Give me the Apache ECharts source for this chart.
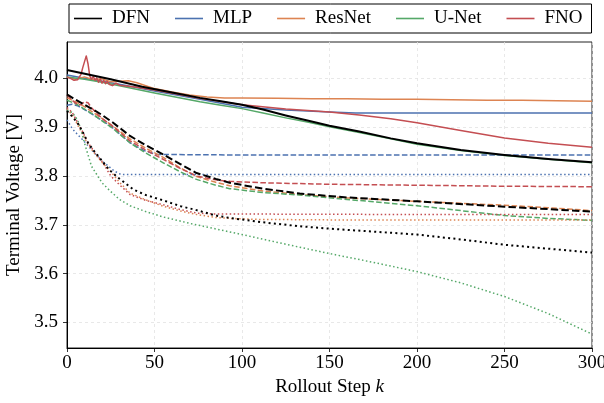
<!DOCTYPE html>
<html><head><meta charset="utf-8">
<script src="https://cdn.jsdelivr.net/npm/echarts@6/dist/echarts.min.js"></script>
<style>html,body{margin:0;padding:0;background:#fff}#c{width:604px;height:403px}</style>
</head><body><div id="c"></div>
<script>
// ---- tick labels ----
const xTicks = [0, 50, 100, 150, 200, 250, 300];
const yTicks = [3.5, 3.6, 3.7, 3.8, 3.9, 4.0];
const legendNames = ['DFN', 'MLP', 'ResNet', 'U-Net', 'FNO'];

// ---- solid (first rollout) ----
const dfnSolid = [[0,4.017],[25,3.998],[43,3.983],[60,3.971],[76,3.960],[88,3.953],[100,3.946],[112,3.936],[125,3.924],[138,3.913],[150,3.903],[167,3.891],[185,3.877],[200,3.867],[225,3.853],[250,3.843],[275,3.835],[300,3.828]];
const mlpSolid = [[0,4.007],[10,4.0],[20,3.994],[30,3.988],[50,3.974],[76,3.957],[100,3.941],[125,3.935],[150,3.931],[165,3.929],[200,3.929],[300,3.929]];
const resnetSolid = [[0,4.002],[5,3.998],[10,4.003],[15,3.997],[20,3.999],[25,3.993],[30,3.994],[35,3.995],[40,3.991],[45,3.985],[50,3.979],[60,3.972],[70,3.966],[80,3.962],[90,3.960],[100,3.960],[120,3.959],[140,3.958],[160,3.958],[180,3.957],[200,3.957],[220,3.956],[240,3.955],[260,3.955],[280,3.954],[300,3.953]];
const unetSolid = [[0,4.003],[10,3.998],[20,3.992],[30,3.985],[50,3.970],[76,3.952],[88,3.945],[100,3.938],[112,3.929],[125,3.919],[138,3.910],[150,3.901],[167,3.889],[185,3.876],[200,3.865],[225,3.852],[250,3.842],[275,3.834],[300,3.827]];
const fnoSolid = [[0,4.003],[2,4.0],[4,3.996],[6,3.997],[8,4.008],[9,4.022],[11,4.046],[12,4.03],[13,4.005],[14,3.998],[15,4.004],[16,3.996],[17,4.001],[18,3.992],[19,3.999],[20,3.99],[21,3.996],[22,3.989],[23,3.994],[24,3.988],[25,3.992],[26,3.985],[28,3.99],[30,3.986],[40,3.982],[50,3.976],[76,3.959],[100,3.946],[125,3.937],[150,3.931],[167,3.925],[185,3.917],[200,3.909],[225,3.893],[250,3.878],[275,3.867],[300,3.859]];

// ---- dashed (second rollout) ----
const dfnDashed = [[0,3.967],[5,3.956],[10,3.946],[15,3.936],[20,3.925],[26,3.910],[36,3.882],[45,3.863],[55,3.844],[65,3.824],[74,3.806],[85,3.794],[93,3.786],[112,3.774],[133,3.764],[160,3.756],[200,3.748],[250,3.737],[275,3.732],[300,3.727]];
const mlpDashed = [[0,3.945],[3,3.947],[6,3.944],[10,3.936],[15,3.925],[20,3.914],[26,3.899],[36,3.868],[44,3.852],[51,3.844],[100,3.843],[300,3.843]];
const resnetDashed = [[0,3.960],[5,3.952],[10,3.942],[15,3.930],[20,3.918],[26,3.903],[36,3.876],[45,3.857],[55,3.838],[65,3.816],[74,3.799],[85,3.787],[93,3.780],[112,3.769],[133,3.762],[160,3.755],[200,3.748],[250,3.740],[275,3.735],[300,3.729]];
const unetDashed = [[0,3.955],[5,3.948],[10,3.937],[15,3.926],[20,3.913],[26,3.898],[36,3.868],[45,3.847],[55,3.827],[65,3.808],[74,3.793],[85,3.781],[93,3.774],[112,3.766],[133,3.761],[160,3.752],[200,3.739],[225,3.729],[250,3.719],[275,3.713],[300,3.709]];
const fnoDashed = [[0,3.966],[3,3.955],[6,3.946],[8,3.946],[10,3.952],[12,3.950],[14,3.940],[17,3.928],[20,3.918],[26,3.902],[36,3.872],[45,3.853],[55,3.834],[65,3.815],[74,3.800],[85,3.792],[93,3.789],[112,3.786],[150,3.783],[200,3.781],[250,3.779],[300,3.778]];

// ---- dotted (third rollout) ----
const dfnDotted = [[0,3.933],[3,3.922],[6,3.909],[9,3.890],[12,3.868],[15,3.853],[18,3.840],[24,3.813],[29,3.797],[33,3.786],[38,3.772],[45,3.761],[55,3.750],[65,3.738],[74,3.730],[85,3.719],[93,3.714],[112,3.705],[133,3.697],[150,3.692],[175,3.686],[200,3.680],[225,3.670],[250,3.659],[275,3.651],[300,3.643]];
const mlpDotted = [[0,3.915],[3,3.897],[6,3.885],[9,3.874],[12,3.862],[16,3.846],[21,3.828],[26,3.813],[29,3.806],[31,3.803],[100,3.803],[300,3.803]];
const resnetDotted = [[0,3.937],[3,3.925],[6,3.905],[9,3.885],[12,3.865],[16,3.845],[20,3.828],[25,3.809],[30,3.787],[36,3.765],[45,3.751],[55,3.738],[65,3.728],[74,3.721],[85,3.715],[93,3.713],[110,3.711],[150,3.710],[200,3.710],[250,3.710],[300,3.710]];
const unetDotted = [[0,3.935],[3,3.930],[6,3.915],[8,3.895],[10.5,3.861],[14,3.820],[20,3.786],[25,3.768],[30,3.752],[36,3.739],[45,3.727],[55,3.716],[70,3.703],[87,3.690],[100,3.680],[115,3.668],[133,3.654],[150,3.641],[175,3.623],[200,3.604],[225,3.581],[250,3.553],[275,3.518],[300,3.476]];
const fnoDotted = [[0,3.940],[3,3.930],[6,3.910],[9,3.890],[12,3.868],[16,3.848],[20,3.830],[25,3.800],[30,3.782],[36,3.762],[45,3.750],[55,3.741],[65,3.731],[74,3.724],[85,3.722],[100,3.722],[200,3.721],[300,3.721]];

const COL = {DFN:'#000000', MLP:'#4C72B0', ResNet:'#DD8452', 'U-Net':'#55A868', FNO:'#C44E52'};
const FONT = 'Liberation Serif';
const FS = 19;

function mk(name, model, data, style) {
  const w = model === 'DFN' ? 2 : 1.5;
  let type = 'solid';
  if (style === 'dashed') type = [3.7 * w, 1.6 * w];
  if (style === 'dotted') type = [1 * w, 1.65 * w];
  return {
    name: name, type: 'line', data: data, showSymbol: false, symbol: 'none',
    smooth: false,
    lineStyle: {color: COL[model], width: w, type: type, cap: 'butt', join: 'round'},
    itemStyle: {color: COL[model]},
    z: model === 'DFN' ? 5 : 3, silent: true, animation: false
  };
}

const series = [
  mk('MLP', 'MLP', mlpSolid, 'solid'),
  mk('ResNet', 'ResNet', resnetSolid, 'solid'),
  mk('U-Net', 'U-Net', unetSolid, 'solid'),
  mk('FNO', 'FNO', fnoSolid, 'solid'),
  mk('MLP b', 'MLP', mlpDashed, 'dashed'),
  mk('ResNet b', 'ResNet', resnetDashed, 'dashed'),
  mk('U-Net b', 'U-Net', unetDashed, 'dashed'),
  mk('FNO b', 'FNO', fnoDashed, 'dashed'),
  mk('MLP c', 'MLP', mlpDotted, 'dotted'),
  mk('ResNet c', 'ResNet', resnetDotted, 'dotted'),
  mk('U-Net c', 'U-Net', unetDotted, 'dotted'),
  mk('FNO c', 'FNO', fnoDotted, 'dotted'),
  mk('DFN', 'DFN', dfnSolid, 'solid'),
  mk('DFN b', 'DFN', dfnDashed, 'dashed'),
  mk('DFN c', 'DFN', dfnDotted, 'dotted')
];

const gridLine = {show: true, lineStyle: {color: '#e2e2e2', width: 0.8, type: [3, 3]}};

const chart = echarts.init(document.getElementById('c'), null, {renderer: 'canvas'});
chart.setOption({
  backgroundColor: '#ffffff',
  animation: false,
  textStyle: {fontFamily: FONT},
  grid: {left: 67, right: 12, top: 42, bottom: 55, containLabel: false, outerBoundsMode: 'none',
         show: true, borderColor: '#222', borderWidth: 1, backgroundColor: 'transparent'},
  legend: {
    data: legendNames.map(n => ({name: n, icon: 'rect', itemStyle: {color: COL[n]}})),
    left: 69, top: 4, orient: 'horizontal',
    itemWidth: 28, itemHeight: 1.6, itemGap: 25,
    padding: [5, 9, 5, 5], borderColor: '#000', borderWidth: 1, borderRadius: 0,
    textStyle: {fontFamily: FONT, fontSize: FS, color: '#000', lineHeight: 19, padding: [0, 0, 0, 5]},
    selectedMode: false
  },
  xAxis: {
    type: 'value', min: xTicks[0], max: xTicks[xTicks.length - 1], interval: 50,
    name: '{a|Rollout Step }{i|k}', nameLocation: 'middle', nameGap: 28,
    nameTextStyle: {rich: {a: {fontFamily: FONT, fontSize: FS, color: '#000'}, i: {fontFamily: FONT, fontSize: FS, fontStyle: 'italic', color: '#000'}}},
    axisLine: {show: true, lineStyle: {color: '#000', width: 1}},
    axisTick: {show: true, length: 4, lineStyle: {color: '#000', width: 0.8}},
    axisLabel: {fontFamily: FONT, fontSize: FS, color: '#000', margin: 6},
    splitLine: gridLine
  },
  yAxis: {
    type: 'value', min: 3.4475, max: 4.0745,
    name: 'Terminal Voltage [V]', nameLocation: 'middle', nameGap: 35, nameRotate: 90,
    nameTextStyle: {fontFamily: FONT, fontSize: FS, color: '#000'},
    axisLine: {show: true, lineStyle: {color: '#000', width: 1}},
    axisTick: {show: true, length: 4, lineStyle: {color: '#000', width: 0.8}, customValues: yTicks},
    axisLabel: {fontFamily: FONT, fontSize: FS, color: '#000', margin: 9, customValues: yTicks,
                formatter: v => v.toFixed(1)},
    splitLine: gridLine
  },
  series: series
});
</script></body></html>
